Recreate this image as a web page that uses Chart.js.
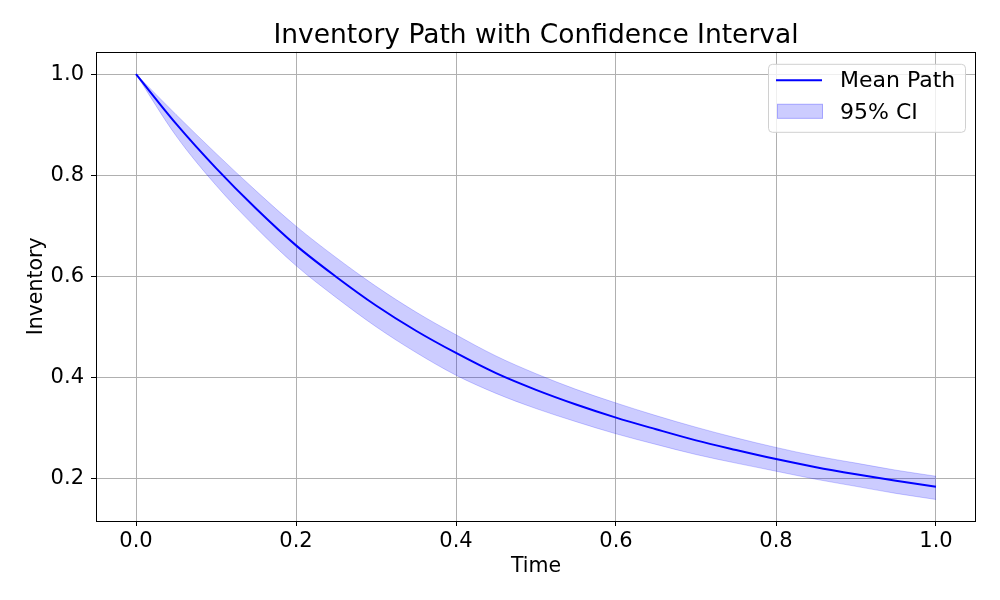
<!DOCTYPE html>
<html>
<head>
<meta charset="utf-8">
<script src="https://cdn.jsdelivr.net/npm/chart.js@4/dist/chart.umd.min.js"></script>
<style>
  html, body { margin: 0; padding: 0; background: #fff; }
  #wrap { width: 1000px; height: 600px; }
</style>
</head>
<body>
<div id="wrap"><canvas id="inv_chart" width="1000" height="600"></canvas></div>
<script>
// data
var times = [0, 0.05, 0.10, 0.15, 0.20, 0.25, 0.30, 0.35, 0.40, 0.45, 0.50,
             0.55, 0.60, 0.65, 0.70, 0.75, 0.80, 0.85, 0.90, 0.95, 1.00]
var meanPath = [1.000, 0.902, 0.814, 0.734, 0.661, 0.599, 0.542, 0.492, 0.448, 0.408, 0.375,
                0.346, 0.320, 0.297, 0.275, 0.256, 0.238, 0.222, 0.208, 0.195, 0.183]
var ciUpper = [1.000, 0.920, 0.843, 0.769, 0.699, 0.637, 0.580, 0.529, 0.484, 0.442, 0.407,
               0.376, 0.349, 0.324, 0.301, 0.280, 0.261, 0.244, 0.230, 0.216, 0.204]
var ciLower = [1.000, 0.878, 0.780, 0.696, 0.621, 0.558, 0.500, 0.449, 0.404, 0.368, 0.338,
               0.312, 0.288, 0.267, 0.247, 0.230, 0.214, 0.198, 0.184, 0.170, 0.158]
var xTicks = [0, 0.2, 0.4, 0.6, 0.8, 1.0]
var yTicks = [0.2, 0.4, 0.6, 0.8, 1.0]

function pts(vals) {
    return times.map(function (t, i) { return { x: t, y: vals[i] } })
}

var FONT = "'DejaVu Sans', sans-serif"
var bandColor = "rgba(0, 0, 255, 0.2)"

// box round the plot area, drawn above the data like matplotlib spines
var framePlugin = {
    id: "frame",
    afterDatasetsDraw: function (chart) {
        var a = chart.chartArea, ctx = chart.ctx
        ctx.save()
        ctx.strokeStyle = "#000"
        ctx.lineWidth = 1
        ctx.strokeRect(Math.round(a.left) + 0.5, Math.round(a.top) + 0.5,
            Math.round(a.right - a.left) - 1, Math.round(a.bottom - a.top))
        ctx.restore()
    }
}

// legend in the upper right corner, inside the axes
var legendPlugin = {
    id: "innerLegend",
    afterDraw: function (chart) {
        var a = chart.chartArea, ctx = chart.ctx
        var mean = chart.data.datasets[2], band = chart.data.datasets[1]
        var w = 197, h = 68
        var x = a.right - 11 - w, y = a.top + 12
        ctx.save()
        ctx.beginPath()
        ctx.roundRect(x + 0.5, y + 0.5, w, h, 4)
        ctx.fillStyle = "rgba(255,255,255,0.8)"
        ctx.fill()
        ctx.strokeStyle = "#d0d0d0"
        ctx.lineWidth = 1
        ctx.stroke()

        ctx.strokeStyle = mean.borderColor
        ctx.lineWidth = 2
        ctx.beginPath()
        ctx.moveTo(x + 8, y + 16.5)
        ctx.lineTo(x + 54, y + 16.5)
        ctx.stroke()

        ctx.fillStyle = band.backgroundColor
        ctx.fillRect(x + 9, y + 40, 46, 15)
        ctx.strokeStyle = band.borderColor
        ctx.lineWidth = 1
        ctx.strokeRect(x + 9.5, y + 40.5, 45, 14)

        ctx.fillStyle = "#000"
        ctx.font = "22px " + FONT
        ctx.textBaseline = "middle"
        ctx.textAlign = "left"
        ctx.fillText(mean.label, x + 72, y + 17.5)
        ctx.fillText(band.label, x + 72, y + 49)
        ctx.restore()
    }
}

var invCanvas = document.getElementById("inv_chart")
var config = {
    type: "line",
    data: {
        datasets: [{
            label: "95% CI lower",
            data: pts(ciLower),
            borderColor: bandColor,
            borderWidth: 1,
            pointRadius: 0,
            fill: false,
            order: 1
        },
        {
            label: "95% CI",
            data: pts(ciUpper),
            borderColor: bandColor,
            backgroundColor: bandColor,
            borderWidth: 1,
            pointRadius: 0,
            fill: "-1",
            order: 1
        },
        {
            label: "Mean Path",
            data: pts(meanPath),
            borderColor: "#0000ff",
            borderWidth: 2,
            pointRadius: 0,
            fill: false,
            order: 0
        }
        ]
    },
    options: {
        responsive: false,
        animation: false,
        layout: { padding: { left: 0, right: 24, top: 0, bottom: 0 } },
        elements: { line: { cubicInterpolationMode: "monotone" } },
        plugins: {
            legend: { display: false },
            tooltip: { enabled: false },
            title: {
                display: true,
                fullSize: false,
                text: "Inventory Path with Confidence Interval",
                color: "#000",
                font: { family: FONT, size: 26.5, weight: "normal" },
                padding: { top: 20, bottom: 0 }
            }
        },
        scales: {
            x: {
                type: "linear",
                min: -0.05,
                max: 1.05,
                afterBuildTicks: function (s) { s.ticks = xTicks.map(function (v) { return { value: v } }) },
                afterFit: function (s) { s.height = 79 },
                ticks: {
                    color: "#000",
                    font: { family: FONT, size: 21 },
                    padding: 3,
                    maxRotation: 0,
                    callback: function (v) { return v.toFixed(1) }
                },
                grid: { color: "#b0b0b0", lineWidth: 1, tickColor: "#000", tickLength: 5 },
                border: { display: false },
                title: {
                    display: true,
                    text: "Time",
                    color: "#000",
                    font: { family: FONT, size: 20.5 },
                    padding: { top: 0, bottom: 21 }
                }
            },
            y: {
                min: 0.1154,
                max: 1.0442,
                afterBuildTicks: function (s) { s.ticks = yTicks.map(function (v) { return { value: v } }) },
                afterFit: function (s) { s.width = 96 },
                ticks: {
                    color: "#000",
                    font: { family: FONT, size: 21 },
                    padding: 7,
                    callback: function (v) { return v.toFixed(1) }
                },
                grid: { color: "#b0b0b0", lineWidth: 1, tickColor: "#000", tickLength: 5 },
                border: { display: false },
                title: {
                    display: true,
                    text: "Inventory",
                    color: "#000",
                    font: { family: FONT, size: 20.5 },
                    padding: { top: 24, bottom: 0 }
                }
            }
        }
    },
    plugins: [framePlugin, legendPlugin]
}

var inv_chart = new Chart(invCanvas, config)
</script>
</body>
</html>
